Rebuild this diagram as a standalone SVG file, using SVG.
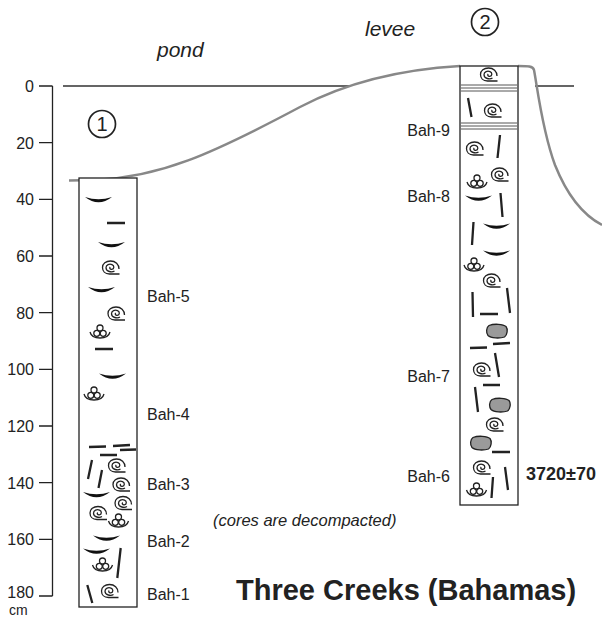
<svg xmlns="http://www.w3.org/2000/svg" xmlns:xlink="http://www.w3.org/1999/xlink" width="602" height="618" viewBox="0 0 602 618">
  <style>
    .lbl { font-family: "Liberation Sans", Arial, sans-serif; font-size: 16px; fill: #222; }
    .ax { text-anchor: end; }
    .unit { font-family: "Liberation Sans", Arial, sans-serif; font-size: 14px; fill: #222; }
    .num { font-family: "Liberation Sans", Arial, sans-serif; font-size: 20px; fill: #222; text-anchor: middle; }
    .date { font-family: "Liberation Sans", Arial, sans-serif; font-size: 18px; font-weight: bold; fill: #222; }
    .title { font-family: "Liberation Sans", Arial, sans-serif; font-size: 29px; font-weight: bold; fill: #222; }
    .ital { font-family: "Liberation Sans", Arial, sans-serif; font-style: italic; fill: #222; }
    .place { font-size: 21px; }
    .note { font-size: 16.5px; }
    .axis { stroke: #222; stroke-width: 1.3; fill: none; }
    .ground { stroke: #888; stroke-width: 2.5; fill: none; }
    .datum { stroke: #333; stroke-width: 1.3; fill: none; }
    .core { stroke: #222; stroke-width: 1.3; fill: #fff; }
    .ring { stroke: #222; stroke-width: 1.7; fill: none; }
    .sym { stroke: #222; stroke-width: 1.3; fill: none; }
    .dash { stroke: #222; stroke-width: 2.3; fill: none; }
    .lam { stroke: #555; stroke-width: 1; fill: none; }
    .valve { fill: #111; stroke: none; }
    .pebble { fill: #9a9a9a; stroke: #222; stroke-width: 1.3; }
  </style>
  <defs>
    <!-- gastropod shell -->
    <g id="snail" class="sym">
      <path d="M8.5,6 H-1.5 C-6,6 -8.5,3 -8.5,-0.5 C-8.5,-4.5 -5,-7 -0.5,-7 C4.5,-7 8,-3.5 8,1"/>
      <path d="M3.5,3 C1,4.6 -5,3.8 -5,-0.2 C-5,-3.4 -1.5,-4.4 1,-3.4 C3.5,-2.4 3.4,1.2 0.8,1.4 C-1,1.6 -1.8,0 -0.8,-1"/>
    </g>
    <!-- ooid cluster in a cup -->
    <g id="ooids" class="sym">
      <circle cx="-3.2" cy="1.3" r="3"/>
      <circle cx="3.2" cy="1.3" r="3"/>
      <circle cx="0" cy="-4" r="3"/>
      <path d="M-10,0 C-8,8 8,8 10,0"/>
    </g>
    <!-- bivalve fragment -->
    <path id="valve" class="valve" d="M-13.5,-3 Q0,7.5 13.5,-3 Q0,1.5 -13.5,-3 Z"/>
    <!-- clast -->
    <path id="pebble" class="pebble" d="M-8,-5.5 C-3,-7.5 6,-7 9,-4.5 C11,-2 10.5,4 7.5,6 C3,7.5 -6,7.5 -9,4.5 C-11,2 -11,-3.5 -8,-5.5 Z"/>
  </defs>

  <rect width="602" height="618" fill="#fff"/>

  <!-- depth axis -->
  <g id="depth-axis">
    <path class="axis" d="M52.5,86 V596 M39,86 H52.5 M39,142.7 H52.5 M39,199.3 H52.5 M39,256 H52.5 M39,312.7 H52.5 M39,369.3 H52.5 M39,426 H52.5 M39,482.7 H52.5 M39,539.3 H52.5 M39,596 H52.5"/>
    <text class="lbl ax" x="34" y="92">0</text>
    <text class="lbl ax" x="34" y="148.7">20</text>
    <text class="lbl ax" x="34" y="205.3">40</text>
    <text class="lbl ax" x="34" y="262">60</text>
    <text class="lbl ax" x="34" y="318.7">80</text>
    <text class="lbl ax" x="34" y="375.3">100</text>
    <text class="lbl ax" x="34" y="432">120</text>
    <text class="lbl ax" x="34" y="488.7">140</text>
    <text class="lbl ax" x="34" y="545.3">160</text>
    <text class="lbl ax" x="34" y="598">180</text>
    <text class="unit" x="9" y="615">cm</text>
  </g>

  <!-- datum line and ground surface -->
  <g id="connectors">
    <path class="datum" d="M63,86 H350 M535,86 H574"/>
    <path class="ground" d="M69,180.5 L95,180 C160,177 210,155 300,107 C340,86 390,70 460,66"/>
    <path class="ground" d="M518,66 C528,66 533,66 534,70 C537,85 542,130 555,165 C567,195 583,215 602,225"/>
  </g>

  <text class="ital place" x="157" y="57">pond</text>
  <text class="ital place" x="365" y="36">levee</text>

  <!-- core 1 -->
  <g id="core1">
    <rect class="core" x="79" y="178" width="58" height="429"/>
    <circle class="ring" cx="102" cy="124" r="13.5"/>
    <text class="num" x="102" y="131">1</text>
    <use xlink:href="#valve" x="98.5" y="200"/>
    <use xlink:href="#valve" x="111.5" y="245"/>
    <use xlink:href="#valve" x="101.5" y="290"/>
    <use xlink:href="#valve" x="112.5" y="376.5"/>
    <use xlink:href="#valve" x="96.5" y="495"/>
    <use xlink:href="#valve" x="106.5" y="538.5"/>
    <use xlink:href="#valve" x="96.5" y="551.5"/>
    <use xlink:href="#snail" x="111" y="268"/>
    <use xlink:href="#snail" x="116.5" y="314"/>
    <use xlink:href="#snail" x="117" y="466"/>
    <use xlink:href="#snail" x="121.5" y="485"/>
    <use xlink:href="#snail" x="123.5" y="503.5"/>
    <use xlink:href="#snail" x="98.5" y="513.5"/>
    <use xlink:href="#snail" x="110" y="591.5"/>
    <use xlink:href="#ooids" x="100" y="332"/>
    <use xlink:href="#ooids" x="94" y="394"/>
    <use xlink:href="#ooids" x="118.5" y="521"/>
    <use xlink:href="#ooids" x="102.5" y="565"/>
    <path class="dash" d="M107,223 H125 M95,349 H113 M89,447 L106,446.5 M113,446 L130,445 M120,450 L136,449.5 M100,455 H117 M92,460 L88,479 M102,470 L98.5,488 M120.7,548 L117.3,578 M87.3,585 L92.3,603"/>
    <text class="lbl" x="147" y="302">Bah-5</text>
    <text class="lbl" x="147" y="420">Bah-4</text>
    <text class="lbl" x="147" y="490">Bah-3</text>
    <text class="lbl" x="147" y="547">Bah-2</text>
    <text class="lbl" x="147" y="600">Bah-1</text>
  </g>

  <!-- core 2 -->
  <g id="core2">
    <rect class="core" x="460" y="66" width="58" height="439"/>
    <circle class="ring" cx="485" cy="22" r="13.5"/>
    <text class="num" x="485" y="29">2</text>
    <path class="lam" d="M461,85 H517 M461,88 H517 M461,91 H517 M461,123 H517 M461,126 H517 M461,129 H517"/>
    <use xlink:href="#snail" x="489" y="75"/>
    <use xlink:href="#snail" x="493" y="111"/>
    <use xlink:href="#snail" x="475" y="149"/>
    <use xlink:href="#snail" x="500" y="175"/>
    <use xlink:href="#snail" x="492" y="281"/>
    <use xlink:href="#snail" x="482" y="370"/>
    <use xlink:href="#snail" x="495" y="425"/>
    <use xlink:href="#snail" x="482" y="468"/>
    <use xlink:href="#ooids" x="477" y="182"/>
    <use xlink:href="#ooids" x="474" y="265"/>
    <use xlink:href="#ooids" x="476.5" y="490"/>
    <use xlink:href="#valve" x="478.5" y="198.5"/>
    <use xlink:href="#valve" x="496.5" y="226.5"/>
    <use xlink:href="#valve" x="496.5" y="253.5"/>
    <use xlink:href="#pebble" x="497" y="331"/>
    <use xlink:href="#pebble" x="500" y="405"/>
    <use xlink:href="#pebble" x="481" y="443"/>
    <path class="dash" d="M468,98 L471.5,117 M500,135 L497.5,158 M500.5,193 L502.5,217 M473.5,222 L472,245 M472.5,292 L473,317 M507,288 L510,313 M495,353 L499,377 M475,387 L478,412 M505,467 L508,490 M493,477 L491.5,498 M480,314 H498 M470,348 L487,347.5 M493,344 L510,343 M483,385 H500 M492,452 H510"/>
    <text class="lbl" x="450" y="136" text-anchor="end">Bah-9</text>
    <text class="lbl" x="450" y="202" text-anchor="end">Bah-8</text>
    <text class="lbl" x="450" y="382" text-anchor="end">Bah-7</text>
    <text class="lbl" x="450" y="482" text-anchor="end">Bah-6</text>
    <text class="date" x="526" y="480">3720±70</text>
  </g>

  <text class="ital note" x="213" y="526">(cores are decompacted)</text>
  <text class="title" x="236" y="600">Three Creeks (Bahamas)</text>
</svg>
